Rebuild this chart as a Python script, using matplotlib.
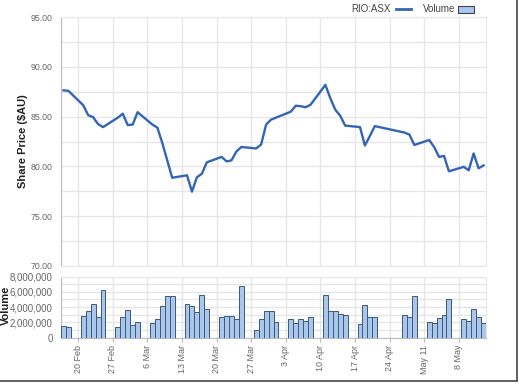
import pandas as pd
import matplotlib
matplotlib.use('Agg')
import matplotlib.pyplot as plt
from matplotlib.lines import Line2D
from matplotlib.patches import Rectangle

plt.rcParams['font.family'] = ['Liberation Sans', 'DejaVu Sans']

# trading days shown (weekdays, minus the days with no data)
missing_days = ['2017-04-21', '2017-04-24', '2017-04-25']
dates = pd.bdate_range('2017-02-16', '2017-05-12')
dates = dates[~dates.isin(pd.to_datetime(missing_days))]

# RIO:ASX close ($AU)
price = [87.65, 87.6,
         86.15, 85.15, 84.95, 84.25, 83.95,
         84.9, 85.3, 84.15, 84.2, 85.45,
         84.2, 83.9, 82.35, 80.6, 78.85,
         79.1, 77.45, 78.9, 79.25, 80.4,
         80.95, 80.5, 80.6, 81.5, 81.95,
         81.8, 82.2, 84.2, 84.7, 84.9,
         85.5, 86.1, 86.05, 85.95, 86.2,
         88.2, 86.85, 85.7, 85.1, 84.1,
         83.95, 82.1, 83.05, 84.05,
         83.4, 83.2, 82.15,
         82.65, 81.95, 80.95, 81.05, 79.5,
         79.95, 79.6, 81.3, 79.8, 80.1]

# volume (millions of shares)
volume_m = [1.52, 1.43,
            2.8, 3.55, 4.37, 2.73, 6.2,
            1.43, 2.73, 3.6, 1.65, 2.08,
            1.87, 2.47, 4.1, 5.4, 5.4,
            4.4, 4.16, 3.3, 5.55, 3.8,
            2.65, 2.8, 2.8, 2.5, 6.75,
            1.04, 2.39, 3.55, 3.55, 2.0,
            2.39, 1.87, 2.4, 2.2, 2.7,
            5.6, 3.55, 3.55, 3.07, 2.95,
            1.73, 4.25, 2.73, 2.73,
            2.95, 2.65, 5.45,
            2.08, 1.87, 2.6, 2.95, 5.1,
            2.5, 2.2, 3.8, 2.73, 1.87]

tick_labels = ['20 Feb', '27 Feb', '6 Mar', '13 Mar', '20 Mar', '27 Mar',
               '3 Apr', '10 Apr', '17 Apr', '24 Apr', 'May 11', '8 May']
price_ticks = [70, 72.5, 75, 77.5, 80, 82.5, 85, 87.5, 90, 92.5, 95]
vol_ticks = [0, 1, 2, 3, 4, 5, 6, 7, 8]
vol_labels = ['0', '', '2,000,000', '', '4,000,000', '', '6,000,000', '', '8,000,000']

line_col = '#3465b5'
bar_col = '#a9c6ec'
bar_edge = '#3d5878'
grid_col = '#e6e6e6'
text_col = '#666666'

W, H = 521, 385
fig = plt.figure(figsize=(W / 100, H / 100), dpi=100)
ax1 = fig.add_axes([61 / W, 1 - 265.7 / H, 425 / W, 248.4 / H])
ax2 = fig.add_axes([61 / W, 1 - 337.7 / H, 425 / W, 61.2 / H], sharex=ax1)

x = dates.to_pydatetime()
ax1.plot(x, price, color=line_col, lw=1.7, zorder=3)
ax2.bar(x, [v * 1e6 for v in volume_m], width=1.0, color=bar_col,
        edgecolor=bar_edge, linewidth=0.7, zorder=3)

ticks = pd.date_range('2017-02-19', periods=len(tick_labels), freq='7D')
left = dates[0] - pd.Timedelta(hours=12)
right = dates[-1] + pd.Timedelta(hours=12)

for ax in (ax1, ax2):
    ax.set_xlim(left, right)
    ax.set_xticks(ticks.to_pydatetime())
    ax.grid(True, color=grid_col, lw=1, zorder=0)
    for s in ('top', 'right', 'bottom'):
        ax.spines[s].set_color(grid_col)
    ax.spines['left'].set_color('#bbbbbb')

ax1.set_ylim(70, 95)
ax1.set_yticks(price_ticks)
ax1.set_yticklabels(['%.2f' % t if t % 5 == 0 else '' for t in price_ticks])
ax1.tick_params(axis='y', length=0, pad=6, labelsize=6.3, labelcolor=text_col)
ax1.tick_params(axis='x', length=0, labelbottom=False)

ax2.set_ylim(0, 8e6)
ax2.set_yticks([v * 1e6 for v in vol_ticks])
ax2.set_yticklabels(vol_labels)
ax2.tick_params(axis='y', length=0, pad=6, labelsize=7, labelcolor=text_col)
ax2.spines['bottom'].set_color('#bbbbbb')
ax2.set_xticklabels(tick_labels, rotation=90, va='top', ha='center')
ax2.tick_params(axis='x', length=3, color='#bbbbbb', pad=2, labelsize=6.5,
                labelcolor=text_col)

fig.text(23 / W, 1 - 141.5 / H, 'Share Price ($AU)', rotation=90, ha='center',
         va='center', fontsize=8, fontweight='bold', color='#222222')
fig.text(1 / W, 1 - 305 / H, 'Volume', rotation=90, ha='left',
         va='center', fontsize=8, fontweight='bold', color='#222222')

# legend
ly = 1 - 9 / H
fig.text(391 / W, ly, 'RIO:ASX', ha='right', va='center', fontsize=7, color='#444444')
fig.add_artist(Line2D([396 / W, 411 / W], [ly, ly], color=line_col, lw=2,
                      transform=fig.transFigure))
fig.text(455 / W, ly, 'Volume', ha='right', va='center', fontsize=7, color='#444444')
fig.add_artist(Rectangle((458 / W, 1 - 12.5 / H), 16 / W, 6 / H, facecolor=bar_col,
                         edgecolor='#444444', lw=0.8, transform=fig.transFigure))

# screenshot frame (right and bottom edge)
fig.add_artist(Line2D([516.5 / W, 516.5 / W], [1, 1 - 381 / H], color='#555555',
                      lw=1.3, transform=fig.transFigure))
fig.add_artist(Line2D([0, 516.5 / W], [1 - 381 / H, 1 - 381 / H], color='#555555',
                      lw=1.3, transform=fig.transFigure))

fig.savefig('out.png', dpi=100)
